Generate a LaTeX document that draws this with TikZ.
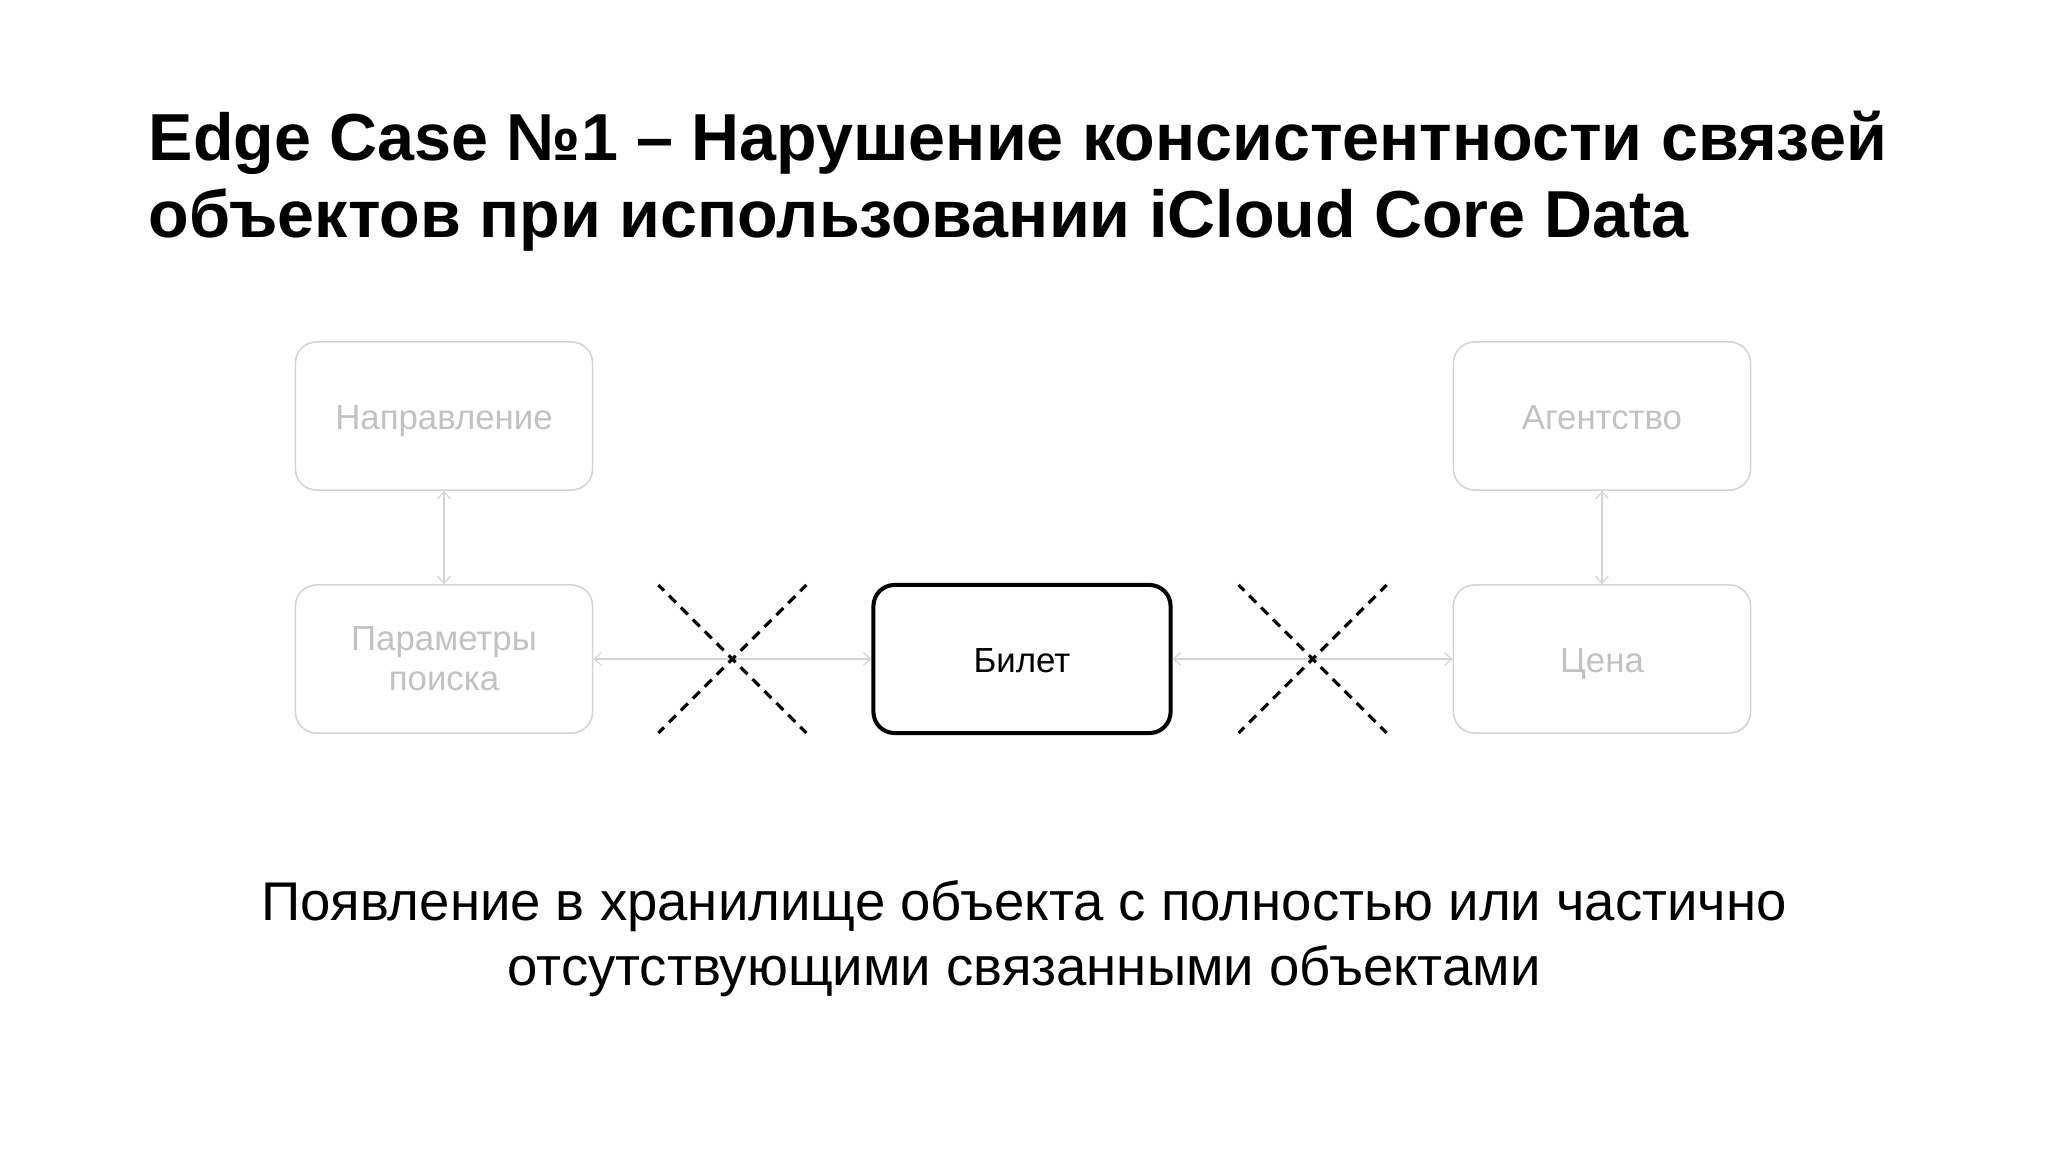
\documentclass[tikz,border=0pt]{standalone}
\usepackage{fontspec}
\setmainfont{Liberation Sans}
\usetikzlibrary{arrows.meta,calc}

\definecolor{faintText}{HTML}{C2C2C2}
\definecolor{faintLine}{HTML}{D4D4D4}

\begin{document}
\begin{tikzpicture}[x=0.01cm,y=-0.01cm,
  entity/.style={draw=faintLine,line width=0.45pt,rounded corners=6pt,
    minimum width=2.97cm,minimum height=1.48cm,text=faintText,
    font=\fontsize{9.9}{11.3}\selectfont,align=center},
  oneline/.style={text height=0.95em,text depth=0.2em},
  ticket/.style={entity,oneline,draw=black,line width=1.15pt,text=black},
  link/.style={draw=faintLine,line width=0.35pt,
    {Straight Barb[length=2pt,width=3.6pt]}-{Straight Barb[length=2pt,width=3.6pt]}},
  cut/.style={line width=0.9pt,dash pattern=on 2.8pt off 2pt,dash phase=0.55pt},
  heading/.style={anchor=base west,inner sep=0pt,font=\fontsize{18.9}{22}\selectfont\bfseries},
  caption/.style={anchor=base,inner sep=0pt,font=\fontsize{15.5}{18.4}\selectfont}]

\useasboundingbox (0,0) rectangle (2048,1152);

% Title, two lines
\node[heading] (title1) at (148,161) {Edge Case №1 – Нарушение консистентности связей};
\node[heading] (title2) at (148,238) {объектов при использовании iCloud Core Data};

% Entities
\node[entity,oneline] (route)  at (444,416)  {Направление};
\node[entity]         (params) at (444,659)  {Параметры\\поиска};
\node[ticket]         (ticket) at (1022,659) {Билет};
\node[entity,oneline] (agency) at (1602,416) {Агентство};
\node[entity,oneline] (price)  at (1602,659) {Цена};

% Relations
\draw[link] (route.south) -- (params.north);
\draw[link] (agency.south) -- (price.north);
\draw[link] (params.east) -- (ticket.west);
\draw[link] (ticket.east) -- (price.west);

% Broken relations: dashed crosses
\coordinate (cutL) at ($(params.east)!0.5!(ticket.west)$);
\coordinate (cutR) at ($(ticket.east)!0.5!(price.west)$);
\foreach \c in {cutL,cutR} {
  \draw[cut] ($(\c)+(-74,-74)$) -- ($(\c)+(74,74)$);
  \draw[cut] ($(\c)+(-74,74)$) -- ($(\c)+(74,-74)$);
}

% Caption
\node[caption] (note1) at (1024,920) {Появление в хранилище объекта с полностью или частично};
\node[caption] (note2) at (1024,985) {отсутствующими связанными объектами};

\end{tikzpicture}
\end{document}
